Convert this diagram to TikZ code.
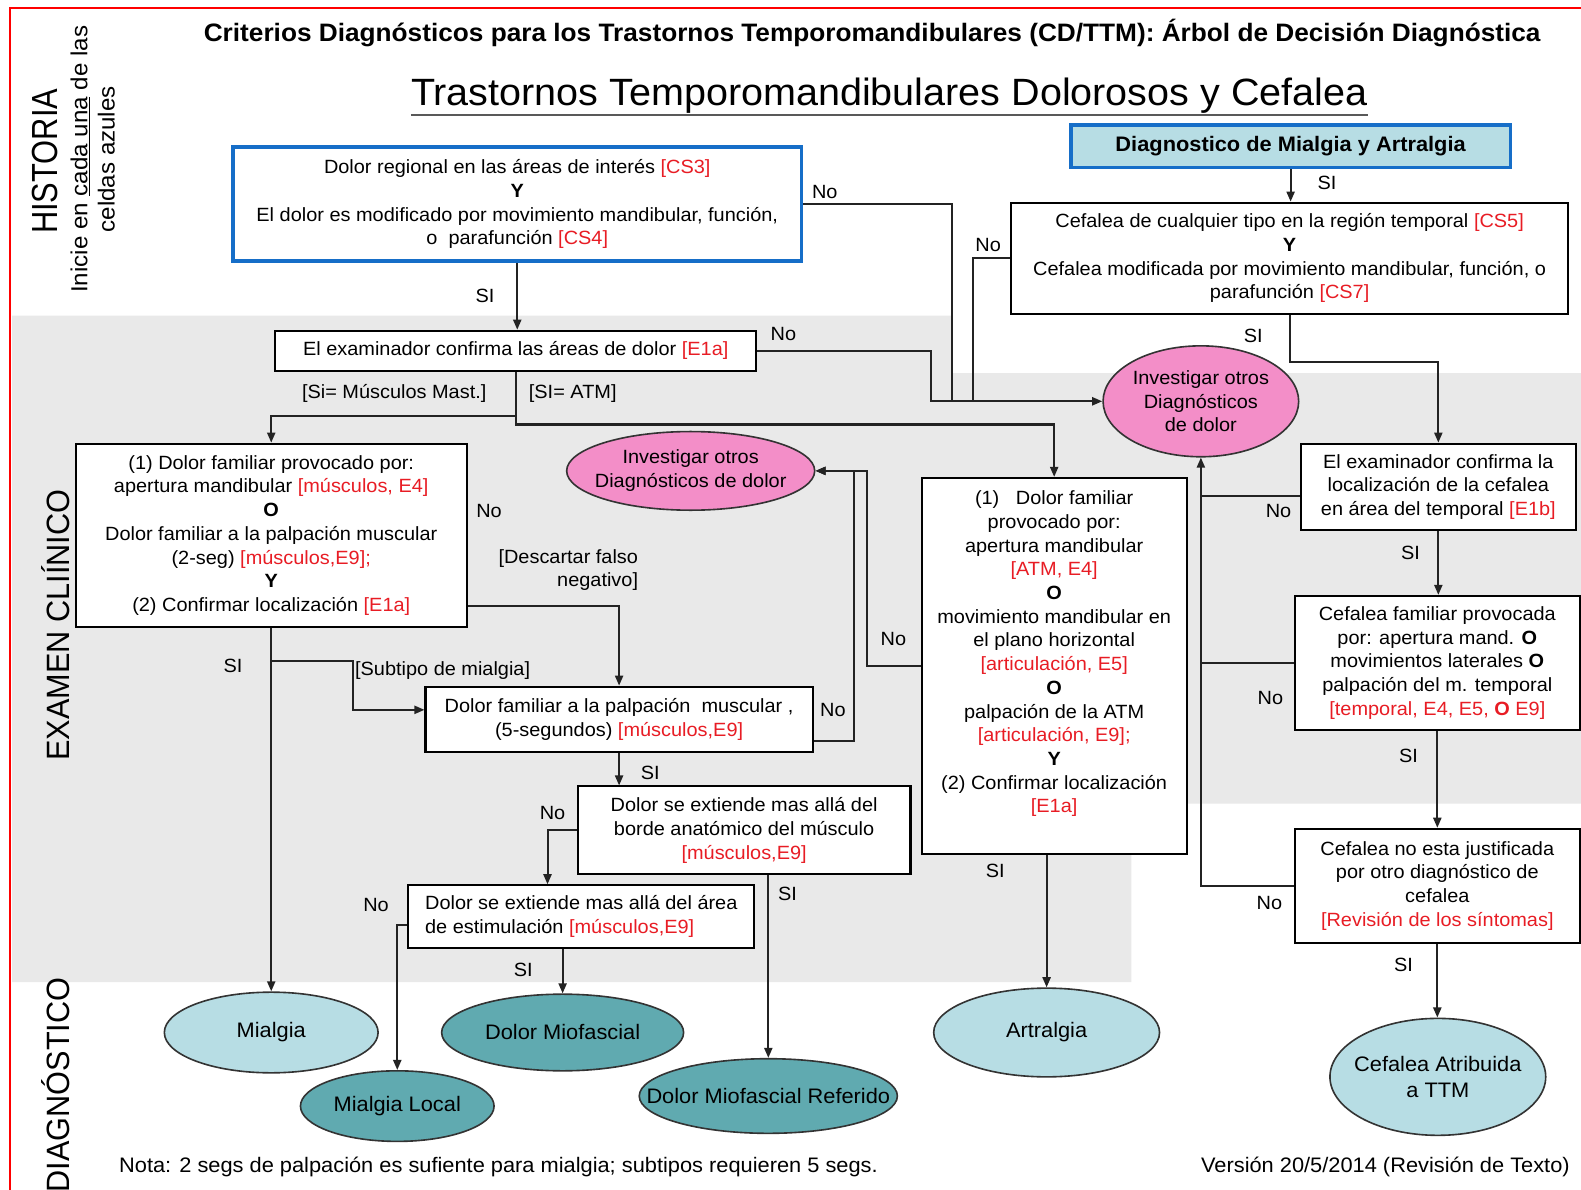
\documentclass[tikz,border=0pt]{standalone}
\usepackage{fontspec}
\setmainfont{Liberation Sans}[FakeStretch=1.04]
\newfontfamily\condfont{Liberation Sans}[FakeStretch=0.85]
\newfontfamily\semicond{Liberation Sans}[FakeStretch=0.95]
\usetikzlibrary{arrows.meta,shapes.geometric}
\definecolor{cred}{RGB}{232,28,36}
\definecolor{cblue}{RGB}{22,110,200}
\definecolor{clight}{RGB}{183,221,228}
\definecolor{cdark}{RGB}{96,170,176}
\definecolor{cpink}{RGB}{243,142,200}
\definecolor{cgray}{RGB}{233,233,233}
\definecolor{cline}{RGB}{35,35,35}
\newcommand{\rd}[1]{\textcolor{cred}{#1}}
\newcommand{\bodyf}{\fontsize{19}{23.5}\selectfont}
\newcommand{\ellf}{\fontsize{20.8}{24}\selectfont}
\begin{document}
\begin{tikzpicture}[x=1pt,y=-1pt,
  box/.style={draw=black,line width=2pt,fill=white,align=center,inner sep=0pt,font=\bodyf},
  bluebox/.style={box,draw=cblue,line width=3.5pt},
  ell/.style={ellipse,draw=black!80,line width=1.6pt,inner sep=0pt},
  elltext/.style={align=center,inner sep=0pt,font=\ellf},
  conn/.style={draw=cline,line width=2pt},
  arr/.style={conn,-{Triangle[length=10pt,width=8pt]}},
  lbl/.style={font=\bodyf,inner sep=0pt},
]
\useasboundingbox (0,0) rectangle (1568,1180);
\fill[white] (0,0) rectangle (1568,1180);
\fill[cgray] (12,313) -- (944,313) -- (944,370) -- (1568,370) -- (1568,797) -- (1122,797) -- (1122,974) -- (12,974) -- cycle;
\draw[red,line width=2.5pt] (10,1180) -- (10,8) -- (1568,8);

% titles
\node[font=\bfseries\fontsize{25}{28}\selectfont,inner sep=0pt] (title) at (865,33) {Criterios Diagnósticos para los Trastornos Temporomandibulares (CD/TTM): Árbol de Decisión Diagnóstica};
\node[font=\fontsize{37.7}{42}\selectfont,inner sep=0pt] (subtitle) at (882,95) {Trastornos Temporomandibulares Dolorosos y Cefalea};
\draw[gray!70!black,line width=2pt] (subtitle.base west) ++(0,9) -- ([yshift=-9pt]subtitle.base east);

% side labels
\node[font=\condfont\fontsize{36}{40}\selectfont,rotate=90,inner sep=0pt] (hist) at (45,160) {HISTORIA};
\node[font=\fontsize{23}{27}\selectfont,rotate=90,align=center,inner sep=0pt] (inic) at (92,158) {Inicie en \underline{cada una} de las\\celdas azules};
\node[font=\semicond\fontsize{32}{36}\selectfont,rotate=90,inner sep=0pt] (exam) at (55,620) {EXAMEN CLIÍNICO};
\node[font=\semicond\fontsize{32}{36}\selectfont,rotate=90,inner sep=0pt] (diagl) at (55,1076) {DIAGNÓSTICO};

% boxes
\node[bluebox,minimum width=564,minimum height=113] (cs3) at (513,202.5) {Dolor regional en las áreas de interés \rd{[CS3]}\\\textbf{Y}\\El dolor es modificado por movimiento mandibular, función,\\o\ \ parafunción \rd{[CS4]}};
\node[bluebox,fill=clight,minimum width=436,minimum height=42,font=\bfseries\fontsize{20.8}{24}\selectfont] (diag) at (1280,145) {Diagnostico de Mialgia y Artralgia};
\node[box,minimum width=552,minimum height=110] (cs5) at (1279,256) {Cefalea de cualquier tipo en la región temporal \rd{[CS5]}\\\textbf{Y}\\Cefalea modificada por movimiento mandibular, función, o\\parafunción \rd{[CS7]}};
\node[box,minimum width=477,minimum height=40] (e1a) at (511.5,348) {El examinador confirma las áreas de dolor \rd{[E1a]}};
\node[box,minimum width=388,minimum height=182] (musc) at (269,531) {(1) Dolor familiar provocado por:\\apertura mandibular \rd{[músculos, E4]}\\\textbf{O}\\Dolor familiar a la palpación muscular\\(2-seg) \rd{[músculos,E9];}\\\textbf{Y}\\(2) Confirmar localización \rd{[E1a]}};
\node[box,minimum width=263,minimum height=373] (atm) at (1045.5,660.5) {(1)\ \ \ Dolor familiar\\provocado por:\\apertura mandibular\\\rd{[ATM, E4]}\\\textbf{O}\\movimiento mandibular en\\el plano horizontal\\\rd{[articulación, E5]}\\\textbf{O}\\palpación de la ATM\\\rd{[articulación, E9];}\\\textbf{Y}\\(2) Confirmar localización\\\rd{[E1a]}\rule[-28pt]{0pt}{0pt}};
\node[box,minimum width=273,minimum height=86] (e1b) at (1426.5,483) {El examinador confirma la\\localización de la cefalea\\en área del temporal \rd{[E1b]}};
\node[box,minimum width=283,minimum height=133] (cfam) at (1425.5,657.5) {Cefalea familiar provocada\\por: apertura mand. \textbf{O}\\movimientos laterales \textbf{O}\\palpación del m. temporal\\\rd{[temporal, E4, E5, \textbf{O} E9]}};
\node[box,minimum width=283,minimum height=113] (cno) at (1425.5,878.5) {Cefalea no esta justificada\\por otro diagnóstico de\\cefalea\\\rd{[Revisión de los síntomas]}};
\node[box,minimum width=384,minimum height=65] (seg5) at (614,713.5) {Dolor familiar a la palpación\ \ muscular ,\\(5-segundos) \rd{[músculos,E9]}};
\node[box,minimum width=330,minimum height=87] (ext) at (738,823.5) {Dolor se extiende mas allá del\\borde anatómico del músculo\\\rd{[músculos,E9]}};
\node[box,minimum width=343,minimum height=62,align=left] (area) at (576.5,909) {Dolor se extiende mas allá del área\\de estimulación \rd{[músculos,E9]}};

% ellipses
\node[ell,fill=cpink,minimum width=194,minimum height=110] (pinkR) at (1191,398) {};
\node[elltext,font=\fontsize{19}{23}\selectfont] (pinkRt) at (pinkR.center) {Investigar otros\\Diagnósticos\\de dolor};
\node[ell,fill=cpink,minimum width=246,minimum height=78] (pinkM) at (685,467) {};
\node[elltext,font=\fontsize{19}{24}\selectfont] (pinkMt) at (pinkM.center) {Investigar otros\\Diagnósticos de dolor};
\node[ell,fill=clight,minimum width=212,minimum height=80] (mial) at (269,1024) {};
\node[elltext] (mialt) at (mial.center) {Mialgia};
\node[ell,fill=cdark,minimum width=192,minimum height=70] (mloc) at (394,1097) {};
\node[elltext] (mloct) at (mloc.center) {Mialgia Local};
\node[ell,fill=cdark,minimum width=240,minimum height=76] (dmio) at (558,1024) {};
\node[elltext] (dmiot) at (dmio.center) {Dolor Miofascial};
\node[ell,fill=cdark,minimum width=256,minimum height=74] (dmr) at (762,1087) {};
\node[elltext] (dmrt) at (dmr.center) {Dolor Miofascial Referido};
\node[ell,fill=clight,minimum width=224,minimum height=88] (artr) at (1038,1024) {};
\node[elltext] (artrt) at (artr.center) {Artralgia};
\node[ell,fill=clight,minimum width=214,minimum height=116] (cefat) at (1426,1068) {};
\node[elltext,font=\fontsize{20.8}{26}\selectfont] (cefatt) at (cefat.center) {Cefalea Atribuida\\a TTM};

% connectors
\draw[arr] (cs3.south) -- (cs3.south |- e1a.north);
\draw[conn] (cs3.east) -- (944,202.5) -- (944,398);
\draw[conn] (cs5.west) -- (965,256) -- (965,398);
\draw[arr] (e1a.east) -- (923,348) -- (923,398) -- (pinkR.west);
\draw[arr] (diag.south) -- (diag.south |- cs5.north);
\draw[arr] (cs5.south) -- (1279,359) -| (e1b.north);
\draw[arr] (e1a.south) -- (511.5,413) -| (musc.north);
\draw[arr] (e1a.south) -- (511.5,421) -| (atm.north);
\draw[arr] (musc.south) -- (mial.north);
\draw[arr] (musc.south |- 0,656) -- (350,656) -- (350,704) -- (seg5.west |- 0,704);
\draw[arr] (musc.east |- 0,601) -| (seg5.north);
\draw[arr] (seg5.east |- 0,735) -- (847,735) -- (847,467) -- (pinkM.east);
\draw[arr] (atm.west) -- (860,660.5) -- (860,467) -- (pinkM.east);
\draw[arr] (seg5.south) -- (seg5.south |- ext.north);
\draw[arr] (ext.west) -- (543,823.5) -- (area.north -| 543,0);
\draw[arr] (dmr.north |- ext.south) -- (dmr.north);
\draw[arr] (area.west |- 0,917) -| (mloc.north);
\draw[arr] (dmio.north |- area.south) -- (dmio.north);
\draw[arr] (artr.north |- atm.south) -- (artr.north);
\draw[arr] (e1b.south) -- (e1b.south |- cfam.north);
\draw[conn] (e1b.west |- 0,492) -- (1191,492);
\draw[conn] (cfam.west) -- (1191,657.5);
\draw[arr] (cno.west) -- (1191,878.5) -- (pinkR.south);
\draw[arr] (cfam.south) -- (cno.north);
\draw[arr] (cno.south) -- (cno.south |- cefat.north);

% labels
\node[lbl] (l1) at (818,190) {No};
\node[lbl] (l2) at (481,293) {SI};
\node[lbl] (l3) at (777,331) {No};
\node[lbl] (l4) at (980,243) {No};
\node[lbl] (l5) at (1316,181) {SI};
\node[lbl] (l6) at (1243,333) {SI};
\node[lbl] (l7) at (391,390) {[Si= Músculos Mast.]};
\node[lbl] (l8) at (568,390) {[SI= ATM]};
\node[lbl] (l9) at (485,507) {No};
\node[lbl,align=right,anchor=east] (l10) at (633,565.5) {[Descartar falso\\negativo]};
\node[lbl] (l11) at (231,660) {SI};
\node[lbl] (l12) at (439,665) {[Subtipo de mialgia]};
\node[lbl] (l13) at (826,704) {No};
\node[lbl] (l14) at (886,634) {No};
\node[lbl] (l15) at (645,767) {SI};
\node[lbl] (l16) at (548,806) {No};
\node[lbl] (l17) at (781,887) {SI};
\node[lbl] (l18) at (373,898) {No};
\node[lbl] (l19) at (519,962) {SI};
\node[lbl] (l20) at (987,864) {SI};
\node[lbl] (l21) at (1399,548) {SI};
\node[lbl] (l22) at (1268,507) {No};
\node[lbl] (l23) at (1260,692) {No};
\node[lbl] (l24) at (1259,896) {No};
\node[lbl] (l25) at (1397,750) {SI};
\node[lbl] (l26) at (1392,957) {SI};

\node[lbl,font=\fontsize{20.8}{24}\selectfont,anchor=west] (nota) at (118,1157) {Nota: 2 segs de palpación es sufiente para mialgia; subtipos requieren 5 segs.};
\node[lbl,font=\fontsize{20.8}{24}\selectfont,anchor=east] (vers) at (1557,1157) {Versión 20/5/2014 (Revisión de Texto)};
\end{tikzpicture}
\end{document}
